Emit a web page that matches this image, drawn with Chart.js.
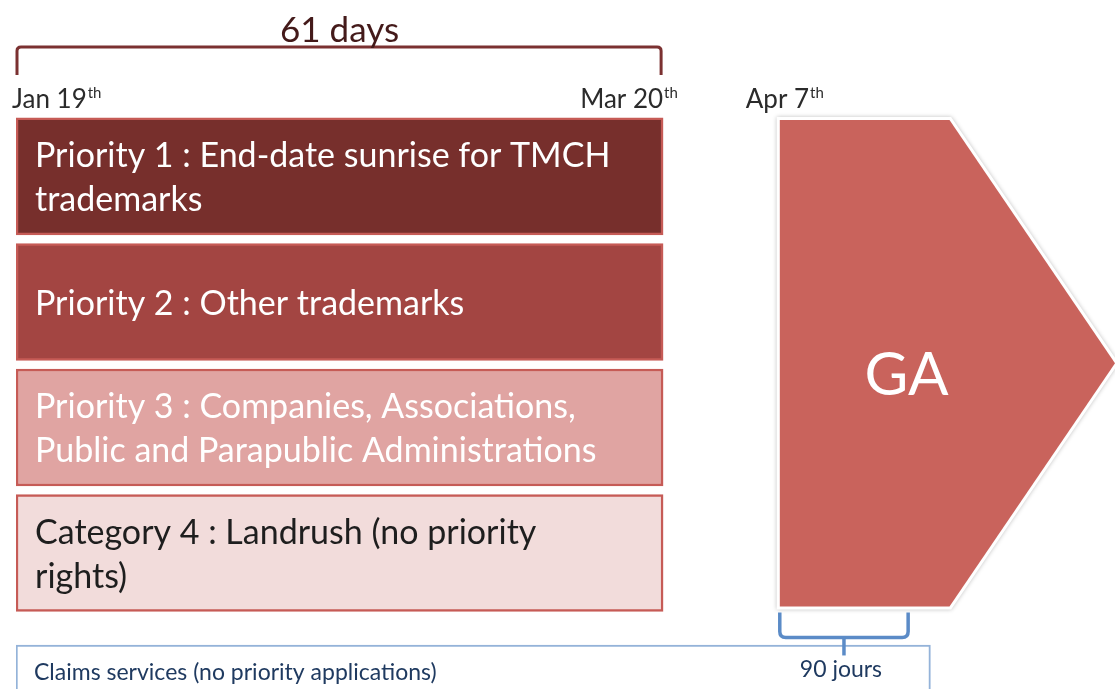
<!DOCTYPE html>
<html lang="en">
<head>
<meta charset="UTF-8">
<title>Launch phases</title>
<script src="https://cdn.jsdelivr.net/npm/chart.js"></script>
<style>
  body { margin: 0; background: #fff; }
  #wrap { width: 1115px; height: 689px; position: relative; }
</style>
</head>
<body>
<div id="wrap"><canvas id="phasesChart"></canvas></div>
<script>
// x values are days from Jan 19th (the drawing is not to scale after Mar 20th)
const phaseLabels = [
  ['Priority 1 : End-date sunrise for TMCH', 'trademarks'],
  ['Priority 2 : Other trademarks'],
  ['Priority 3 : Companies, Associations,', 'Public and Parapublic Administrations'],
  ['Category 4 : Landrush (no priority', 'rights)']
];
const phaseStart = [0, 0, 0, 0];
const phaseEnd = [61, 61, 61, 61];
const phaseRow = [0, 1, 2, 3];
const phaseColors = ['#772f2c', '#a34542', '#e0a4a2', '#f2dcdb'];
const phaseTextColors = ['#ffffff', '#ffffff', '#ffffff', '#1e1e1e'];

const sunriseLabel = '61 days';
const dateLabels = ['Jan 19', 'Mar 20', 'Apr 7'];
const dateSuffix = ['th', 'th', 'th'];
const dateValues = [0, 61, 72];

const gaLabel = 'GA';
const gaStart = 72;
const gaShoulder = 88;
const gaTip = 103.6;

const claimsLabel = 'Claims services (no priority applications)';
const claimsRange = [0, 86.2];
const claimsRow = 4.2;
const gaDaysLabel = '90 jours';
const gaDaysRange = [72, 84.1];

const barData = phaseStart.map((s, i) => ({ x: [s, phaseEnd[i]], y: phaseRow[i] }));
barData.push({ x: claimsRange, y: claimsRow });

function supText(ctx, main, sup, x, base, align) {
  ctx.font = '26px Lato';
  const w = ctx.measureText(main).width;
  const left = align === 'right' ? x - w : x;
  ctx.textAlign = 'left';
  ctx.fillText(main, left, base);
  ctx.font = '15px Lato';
  ctx.fillText(sup, left + w + 1, base - 10);
}

function bracket(ctx, x1, x2, yTop, yLine, stub, r) {
  const mid = (x1 + x2) / 2;
  ctx.beginPath();
  ctx.moveTo(x1, yTop);
  ctx.lineTo(x1, yLine - r * Math.sign(yLine - yTop));
  ctx.quadraticCurveTo(x1, yLine, x1 + r, yLine);
  ctx.lineTo(x2 - r, yLine);
  ctx.quadraticCurveTo(x2, yLine, x2, yLine - r * Math.sign(yLine - yTop));
  ctx.lineTo(x2, yTop);
  ctx.stroke();
  if (stub) {
    ctx.beginPath();
    ctx.moveTo(mid, yLine);
    ctx.lineTo(mid, yLine + stub);
    ctx.stroke();
  }
}

const diagramPlugin = {
  id: 'diagram',
  afterDatasetsDraw(chart) {
    const ctx = chart.ctx;
    const xs = chart.scales.x;
    const els = chart.getDatasetMeta(0).data;
    const rows = els.slice(0, phaseLabels.length);
    const claims = els[phaseLabels.length];
    const rowsTop = rows[0].y - rows[0].height / 2;
    const rowsBottom = rows[rows.length - 1].y + rows[rows.length - 1].height / 2;

    ctx.save();
    ctx.textBaseline = 'middle';

    // labels inside the phase boxes
    rows.forEach((el, i) => {
      const lines = phaseLabels[i];
      ctx.font = '34px Lato';
      ctx.fillStyle = phaseTextColors[i];
      ctx.textAlign = 'left';
      lines.forEach((t, j) => {
        const y = el.y + 2 + (j - (lines.length - 1) / 2) * 44;
        ctx.fillText(t, Math.min(el.x, el.base) + 19, y);
      });
    });

    // GA arrow
    const gx0 = xs.getPixelForValue(gaStart);
    const gx1 = xs.getPixelForValue(gaShoulder);
    const gx2 = xs.getPixelForValue(gaTip);
    const gTop = rowsTop + 2;
    const gBot = rowsBottom - 5;
    const gMid = (gTop + gBot) / 2;
    ctx.beginPath();
    ctx.moveTo(gx0, gTop);
    ctx.lineTo(gx1, gTop);
    ctx.lineTo(gx2, gMid);
    ctx.lineTo(gx1, gBot);
    ctx.lineTo(gx0, gBot);
    ctx.closePath();
    ctx.shadowColor = 'rgba(0,0,0,0.25)';
    ctx.shadowBlur = 4;
    ctx.strokeStyle = '#ffffff';
    ctx.lineWidth = 6;
    ctx.lineJoin = 'miter';
    ctx.stroke();
    ctx.shadowColor = 'transparent';
    ctx.fillStyle = '#c9635c';
    ctx.fill();
    ctx.fillStyle = '#ffffff';
    ctx.font = '60px Lato';
    ctx.textAlign = 'center';
    ctx.fillText(gaLabel, gx0 + (gx2 - gx0) * 0.378, gMid + 12);

    // sunrise bracket and dates
    const sx0 = xs.getPixelForValue(dateValues[0]);
    const sx1 = xs.getPixelForValue(dateValues[1]);
    ctx.strokeStyle = '#7b3131';
    ctx.lineWidth = 3;
    ctx.lineCap = 'butt';
    bracket(ctx, sx0 + 1, sx1 - 2, rowsTop - 43, rowsTop - 71, 0, 4);
    ctx.fillStyle = '#441a1a';
    ctx.font = '35px Lato';
    ctx.textAlign = 'center';
    ctx.textBaseline = 'alphabetic';
    ctx.fillText(sunriseLabel, (sx0 + sx1) / 2, rowsTop - 76);

    ctx.fillStyle = '#2b2b2b';
    const anchors = ['left', 'right', 'left'];
    const offsets = [-4, 0, -34];
    dateLabels.forEach((d, i) => {
      supText(ctx, d, dateSuffix[i], xs.getPixelForValue(dateValues[i]) + offsets[i], rowsTop - 10, anchors[i]);
    });

    // claims box text and 90 days bracket
    const cTop = claims.y - claims.height / 2;
    ctx.fillStyle = '#1f3a60';
    ctx.font = '23px Lato';
    ctx.textAlign = 'left';
    ctx.textBaseline = 'middle';
    ctx.fillText(claimsLabel, Math.min(claims.x, claims.base) + 18, cTop + 28);

    const bx0 = xs.getPixelForValue(gaDaysRange[0]);
    const bx1 = xs.getPixelForValue(gaDaysRange[1]);
    ctx.strokeStyle = '#5b8bc7';
    ctx.lineWidth = 3.5;
    bracket(ctx, bx0, bx1, gBot + 6, gBot + 31, 18, 6);
    ctx.textAlign = 'center';
    ctx.fillText(gaDaysLabel, (bx0 + bx1) / 2 - 3, cTop + 25);

    ctx.restore();
  }
};

new Chart(document.getElementById('phasesChart'), {
  type: 'bar',
  data: {
    datasets: [{
      data: barData,
      backgroundColor: [...phaseColors, '#ffffff'],
      borderColor: [...phaseColors.map(() => '#c65b56'), '#94b3d9'],
      borderWidth: [2.5, 2.5, 2.5, 2.5, 2],
      borderSkipped: false,
      barThickness: 117
    }]
  },
  options: {
    indexAxis: 'y',
    responsive: true,
    maintainAspectRatio: false,
    animation: false,
    layout: { padding: { left: 16, right: 0, top: 0, bottom: 0 } },
    plugins: { legend: { display: false }, tooltip: { enabled: false } },
    scales: {
      x: { type: 'linear', min: 0, max: 103.6, display: false },
      y: { type: 'linear', reverse: true, offset: false, min: -1.406, max: 4.084, display: false }
    }
  },
  plugins: [diagramPlugin]
});
</script>
</body>
</html>
